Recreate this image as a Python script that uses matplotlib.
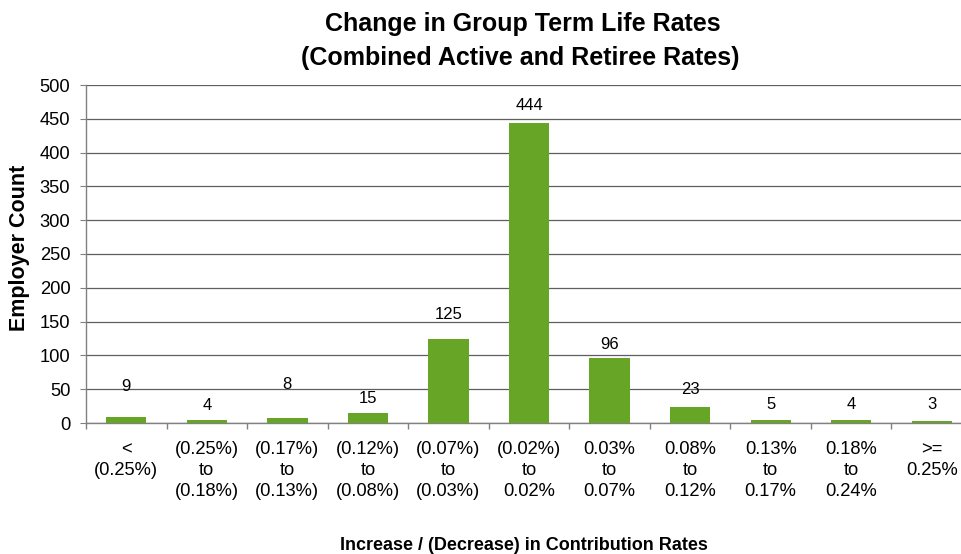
import matplotlib
matplotlib.use("Agg")
import matplotlib.pyplot as plt
import numpy as np

categories = ["<\n(0.25%)", "(0.25%)\nto\n(0.18%)", "(0.17%)\nto\n(0.13%)", "(0.12%)\nto\n(0.08%)",
              "(0.07%)\nto\n(0.03%)", "(0.02%)\nto\n0.02%", "0.03%\nto\n0.07%", "0.08%\nto\n0.12%",
              "0.13%\nto\n0.17%", "0.18%\nto\n0.24%", ">=\n0.25%"]
counts = [9, 4, 8, 15, 125, 444, 96, 23, 5, 4, 3]
# label offsets (points above bar top), as placed in the original
label_offsets = [22, 10.7, 23.9, 10.4, 17.6, 12.6, 9.7, 13, 11, 11.5, 12]

plt.rcParams['font.family'] = ['Liberation Sans', 'DejaVu Sans']

fig = plt.figure(figsize=(9.61, 5.54), dpi=100)
ax = fig.add_axes([86/961, (554-423)/554, (972-86)/961, (423-85)/554])

x = np.arange(len(counts))
ax.bar(x, counts, width=0.5, color='#66A526', zorder=3)
for xi, v, off in zip(x, counts, label_offsets):
    ax.annotate(str(v), (xi, v), xytext=(0, off), textcoords='offset points',
                ha='center', va='center', fontsize=12, zorder=4)

ax.set_xlim(-0.5, len(counts) - 0.5)
ax.set_ylim(0, 500)
ax.set_yticks(np.arange(0, 501, 50))
ax.yaxis.grid(True, color='#5e5e5e', linewidth=0.9, zorder=0)
ax.set_axisbelow(True)

ax.set_xticks(x)
ax.set_xticklabels(categories, fontsize=13.2, linespacing=1.3)
ax.set_xticks(np.arange(-0.5, len(counts), 1), minor=True)
ax.tick_params(axis='x', which='major', length=0, pad=13)
ax.tick_params(axis='x', which='minor', length=4.3, color='#808080', width=1)
ax.tick_params(axis='y', length=4.3, color='#808080', labelsize=13.2, pad=7)

for s in ['top', 'right']:
    ax.spines[s].set_visible(False)
for s in ['left', 'bottom']:
    ax.spines[s].set_color('#808080')
    ax.spines[s].set_linewidth(1)

fig.text(20/961, 1 - 248/554, "Employer Count", rotation=90, ha='center', va='center',
         fontsize=15.5, fontweight='bold')
fig.text(524/961, 1 - 550/554, "Increase / (Decrease) in Contribution Rates", ha='center', va='baseline',
         fontsize=13, fontweight='bold')
fig.text(523/961, 1 - 31/554, "Change in Group Term Life Rates",
         ha='center', va='baseline', fontsize=18, fontweight='bold')
fig.text(520/961, 1 - 65/554, "(Combined Active and Retiree Rates)",
         ha='center', va='baseline', fontsize=18, fontweight='bold')

fig.savefig("out.png", dpi=100)
